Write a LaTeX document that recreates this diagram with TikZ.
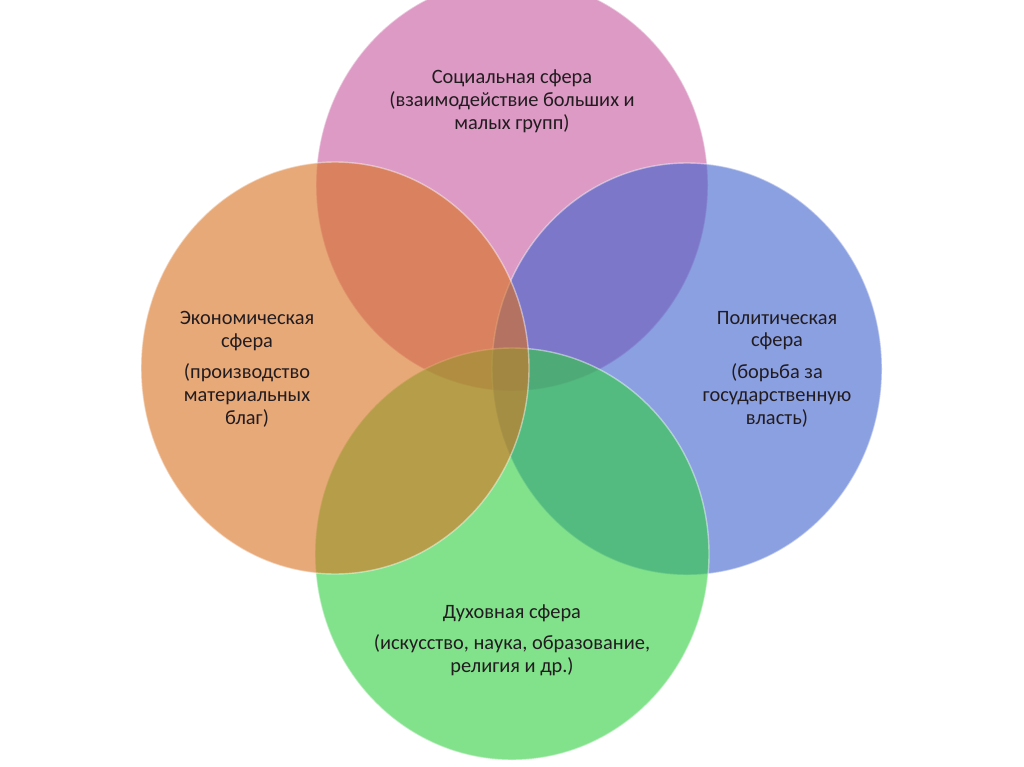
\documentclass[tikz,border=0pt]{standalone}
\usepackage{fontspec}
\setmainfont{Carlito}
\usepackage{xcolor}
\definecolor{socialpink}{RGB}{198,88,157}
\definecolor{politblue}{RGB}{63,97,205}
\definecolor{spiritgreen}{RGB}{47,205,63}
\definecolor{econorange}{RGB}{217,113,30}
\definecolor{textdark}{RGB}{34,28,32}

\begin{document}
\begin{tikzpicture}[x=0.025cm,y=-0.025cm,
  sphere/.style={fill opacity=0.6,draw=white,draw opacity=0.45,line width=1pt},
  spheretext/.style={align=center,text=textdark,font=\fontsize{14.5}{16.3}\selectfont}]
  \clip (0,0) rectangle (1024,767); \fill[white] (0,0) rectangle (1024,767);
  % centres of the four spheres
  \coordinate (social) at (512,185); \coordinate (econ) at (335,368);
  \coordinate (polit) at (687,369); \coordinate (spirit) at (512,554);
  \draw[sphere,fill=socialpink] (social) ellipse [x radius=196,y radius=206];
  \draw[sphere,fill=politblue] (polit) ellipse [x radius=195,y radius=206];
  \draw[sphere,fill=spiritgreen] (spirit) ellipse [x radius=197,y radius=206];
  \draw[sphere,fill=econorange] (econ) ellipse [x radius=194,y radius=206];
  % texts
  \node[spheretext] (socialtxt) at (512,101) {Социальная сфера\\(взаимодействие больших и\\малых групп)};
  \node[spheretext] (econtxt) at (247,369) {Экономическая\\сфера\\[6pt](производство\\материальных\\благ)};
  \node[spheretext] (polittxt) at (777,369) {Политическая\\сфера\\[6pt](борьба за\\государственную\\власть)};
  \node[spheretext] (spirittxt) at (512,640) {Духовная сфера\\[6pt](искусство, наука, образование,\\религия и др.)};
\end{tikzpicture}
\end{document}
